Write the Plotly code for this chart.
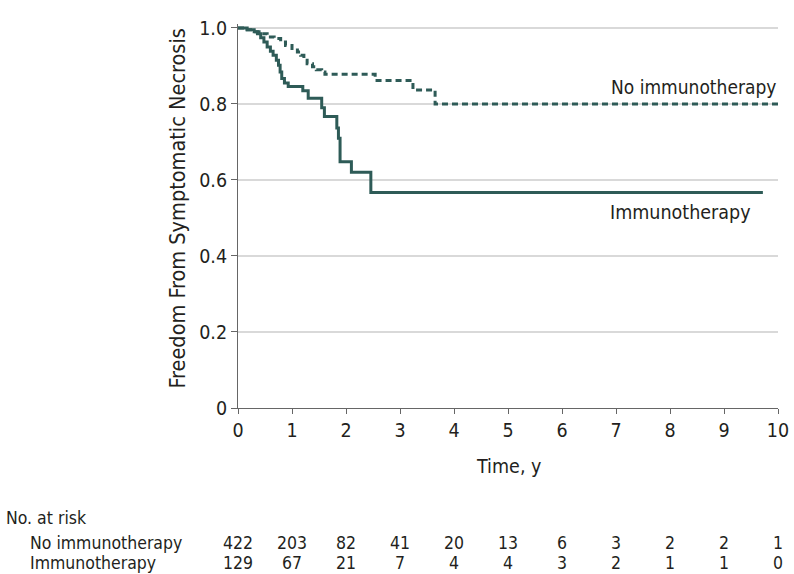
import plotly.graph_objects as go

# ---- data ----
time_no_immuno = [0, 0.17, 0.30, 0.39, 0.54, 0.67, 0.79, 0.88, 1.00, 1.10, 1.16, 1.22, 1.28, 1.38, 1.45, 1.55, 1.61, 2.54, 3.24, 3.65, 10.0]
surv_no_immuno = [1.0, 0.995, 0.99, 0.985, 0.976, 0.972, 0.963, 0.954, 0.946, 0.937, 0.928, 0.915, 0.906, 0.898, 0.890, 0.884, 0.878, 0.862, 0.837, 0.800, 0.800]

time_immuno = [0, 0.17, 0.30, 0.36, 0.42, 0.48, 0.54, 0.60, 0.65, 0.71, 0.75, 0.78, 0.81, 0.86, 0.93, 1.20, 1.30, 1.55, 1.60, 1.83, 1.86, 1.89, 2.10, 2.46, 9.72]
surv_immuno = [1.0, 0.995, 0.99, 0.985, 0.974, 0.963, 0.950, 0.939, 0.928, 0.915, 0.902, 0.884, 0.867, 0.855, 0.846, 0.835, 0.815, 0.790, 0.767, 0.737, 0.710, 0.648, 0.620, 0.567, 0.567]

risk_times = [0, 1, 2, 3, 4, 5, 6, 7, 8, 9, 10]
risk_no_immuno = [422, 203, 82, 41, 20, 13, 6, 3, 2, 2, 1]
risk_immuno = [129, 67, 21, 7, 4, 4, 3, 2, 1, 1, 0]

y_ticks = [0, 0.2, 0.4, 0.6, 0.8, 1.0]
y_ticklabels = ["0", "0.2", "0.4", "0.6", "0.8", "1.0"]
x_ticks = [0, 1, 2, 3, 4, 5, 6, 7, 8, 9, 10]

# ---- style ----
FONT = "DejaVu Sans Condensed, DejaVu Sans, sans-serif"
TXT = "#231f20"
LINE = "#2e5b57"
FS = 19.5
FS_TABLE = 17.5
AXIS_BOTTOM = 408  # pixel row of the x axis


def below_axis(center_px):
    return -(center_px - AXIS_BOTTOM)


fig = go.Figure()
fig.add_trace(go.Scatter(x=time_no_immuno, y=surv_no_immuno, mode="lines",
                         line=dict(shape="hv", color=LINE, width=3, dash="6px,4px"),
                         showlegend=False, hoverinfo="skip"))
fig.add_trace(go.Scatter(x=time_immuno, y=surv_immuno, mode="lines",
                         line=dict(shape="hv", color=LINE, width=3),
                         showlegend=False, hoverinfo="skip"))

fig.update_layout(
    width=794, height=574,
    margin=dict(l=238, r=16, t=24, b=574 - AXIS_BOTTOM, autoexpand=False),
    paper_bgcolor="white", plot_bgcolor="white",
    font=dict(family=FONT, size=FS, color=TXT),
    xaxis=dict(range=[0, 10], tickmode="array", tickvals=x_ticks, automargin=False,
               ticklabeloverflow="allow",
               showgrid=False, zeroline=False, showline=True, linecolor="#666", linewidth=1,
               ticks="outside", ticklen=5, tickcolor="#666", tickfont=dict(size=FS)),
    yaxis=dict(range=[0, 1.0104], tickmode="array", tickvals=y_ticks, ticktext=y_ticklabels,
               automargin=False,
               showgrid=True, gridcolor="#d9d9d9", gridwidth=1.5, zeroline=False,
               showline=True, linecolor="#666", linewidth=1,
               ticks="outside", ticklen=6, tickcolor="#666", tickfont=dict(size=FS)),
)

ann = []
# axis titles
ann.append(dict(text="Freedom From Symptomatic Necrosis", xref="paper", yref="y", x=0, y=0.525,
                xanchor="center", yanchor="middle", xshift=-61, textangle=-90,
                showarrow=False, font=dict(size=21.5)))
ann.append(dict(text="Time, y", xref="x", yref="paper", x=5, y=0, xanchor="center", yanchor="middle",
                yshift=below_axis(466), showarrow=False, font=dict(size=FS)))
# curve labels
ann.append(dict(text="No immunotherapy", xref="paper", yref="y", x=1, y=surv_no_immuno[-1],
                xanchor="right", yanchor="bottom", yshift=4, showarrow=False, font=dict(size=19)))
ann.append(dict(text="Immunotherapy", xref="x", yref="y", x=time_immuno[-1], y=surv_immuno[-1],
                xanchor="right", yanchor="top", xshift=-10, yshift=-6, showarrow=False, font=dict(size=FS)))
# risk table
ROW_HDR, ROW1, ROW2 = 518, 543, 563
ann.append(dict(text="No. at risk", xref="paper", yref="paper", x=0, y=0, xshift=-234,
                yshift=below_axis(ROW_HDR), xanchor="left", yanchor="middle", showarrow=False,
                font=dict(size=FS_TABLE)))
ann.append(dict(text="No immunotherapy", xref="paper", yref="paper", x=0, y=0, xshift=-210,
                yshift=below_axis(ROW1), xanchor="left", yanchor="middle", showarrow=False,
                font=dict(size=FS_TABLE)))
ann.append(dict(text="Immunotherapy", xref="paper", yref="paper", x=0, y=0, xshift=-210,
                yshift=below_axis(ROW2), xanchor="left", yanchor="middle", showarrow=False,
                font=dict(size=FS_TABLE)))
for t, n in zip(risk_times, risk_no_immuno):
    ann.append(dict(text=str(n), xref="x", yref="paper", x=t, y=0, yshift=below_axis(ROW1),
                    xanchor="center", yanchor="middle", showarrow=False, font=dict(size=FS_TABLE)))
for t, n in zip(risk_times, risk_immuno):
    ann.append(dict(text=str(n), xref="x", yref="paper", x=t, y=0, yshift=below_axis(ROW2),
                    xanchor="center", yanchor="middle", showarrow=False, font=dict(size=FS_TABLE)))
fig.update_layout(annotations=ann)

fig.write_html("out.html", config={"displayModeBar": False},
               post_script="document.body.style.margin='0';document.body.style.overflow='hidden';")
